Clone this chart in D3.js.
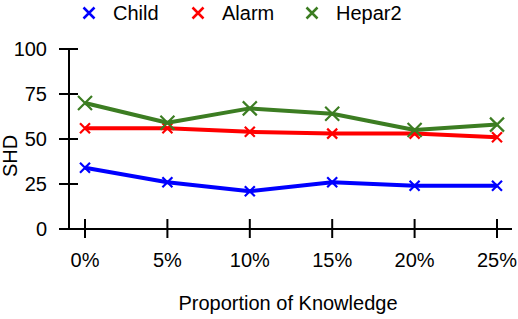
<!DOCTYPE html>
<html>
<head>
<meta charset="utf-8">
<script src="https://cdn.jsdelivr.net/npm/d3@7"></script>
<style>
  body { margin: 0; background: #fff; }
  text { font-family: "Liberation Sans", Arial, sans-serif; fill: #000; }
</style>
</head>
<body>
<div id="chart"></div>
<script>
var categories = ["0%", "5%", "10%", "15%", "20%", "25%"];
var seriesNames = ["Child", "Alarm", "Hepar2"];
var child = [34, 26, 21, 26, 24, 24];
var alarm = [56, 56, 54, 53, 53, 51];
var hepar2 = [70, 59, 67, 64, 55, 58];
var yTicks = [0, 25, 50, 75, 100];

var colors = ["#0000ff", "#ff0000", "#3c7d22"];
var markerSize = [5, 5, 7];

var width = 518, height = 319;

var svg = d3.select("#chart")
  .append("svg")
  .attr("width", width)
  .attr("height", height);

var x = d3.scalePoint().domain(categories).range([85, 497]);
var y = d3.scaleLinear().domain([0, 100]).range([229, 49]);

// y axis
var yAxis = svg.append("g").attr("transform", "translate(69,0)");
yAxis.append("line")
  .attr("y1", y(100)).attr("y2", y(0))
  .attr("stroke", "#000").attr("stroke-width", 2);
yAxis.selectAll(".yt")
  .data(yTicks)
  .enter()
  .append("line")
  .attr("x1", -10).attr("x2", 9)
  .attr("y1", function (d) { return y(d); })
  .attr("y2", function (d) { return y(d); })
  .attr("stroke", "#000").attr("stroke-width", 2);
yAxis.selectAll(".yl")
  .data(yTicks)
  .enter()
  .append("text")
  .attr("x", -22)
  .attr("y", function (d) { return y(d) + 7; })
  .attr("text-anchor", "end")
  .style("font-size", "20px")
  .text(function (d) { return d; });

// x axis
var xAxis = svg.append("g");
xAxis.append("line")
  .attr("x1", 59).attr("x2", 512)
  .attr("y1", 229).attr("y2", 229)
  .attr("stroke", "#000").attr("stroke-width", 2);
xAxis.selectAll(".xt")
  .data(categories)
  .enter()
  .append("line")
  .attr("x1", function (d) { return x(d); })
  .attr("x2", function (d) { return x(d); })
  .attr("y1", 219).attr("y2", 238)
  .attr("stroke", "#000").attr("stroke-width", 2);
xAxis.selectAll(".xl")
  .data(categories)
  .enter()
  .append("text")
  .attr("x", function (d) { return x(d); })
  .attr("y", 267)
  .attr("text-anchor", "middle")
  .style("font-size", "20px")
  .text(function (d) { return d; });

svg.append("text")
  .attr("x", 288).attr("y", 310)
  .attr("text-anchor", "middle")
  .style("font-size", "20px")
  .text("Proportion of Knowledge");

svg.append("text")
  .attr("transform", "translate(17,156) rotate(-90)")
  .attr("text-anchor", "middle")
  .style("font-size", "20px")
  .text("SHD");

// lines
var allSeries = [child, alarm, hepar2];
var line = d3.line()
  .x(function (d, i) { return x(categories[i]); })
  .y(function (d) { return y(d); });

function cross(g, cx, cy, s, color, w) {
  g.append("path")
    .attr("d", "M" + (cx - s) + "," + (cy - s) + "L" + (cx + s) + "," + (cy + s) +
      "M" + (cx - s) + "," + (cy + s) + "L" + (cx + s) + "," + (cy - s))
    .attr("stroke", color)
    .attr("stroke-width", w)
    .attr("fill", "none");
}

allSeries.forEach(function (data, k) {
  svg.append("path")
    .datum(data)
    .attr("d", line)
    .attr("fill", "none")
    .attr("stroke", colors[k])
    .attr("stroke-width", 4)
    .attr("stroke-linejoin", "round");
  var g = svg.append("g");
  data.forEach(function (v, i) {
    cross(g, x(categories[i]), y(v), markerSize[k], colors[k], 2.2);
  });
});

// legend
var legendX = [89, 198, 312];
seriesNames.forEach(function (name, k) {
  var g = svg.append("g");
  cross(g, legendX[k], 13, 5.5, colors[k], 2.5);
  g.append("text")
    .attr("x", legendX[k] + 24)
    .attr("y", 20)
    .style("font-size", "20px")
    .text(name);
});
</script>
</body>
</html>
